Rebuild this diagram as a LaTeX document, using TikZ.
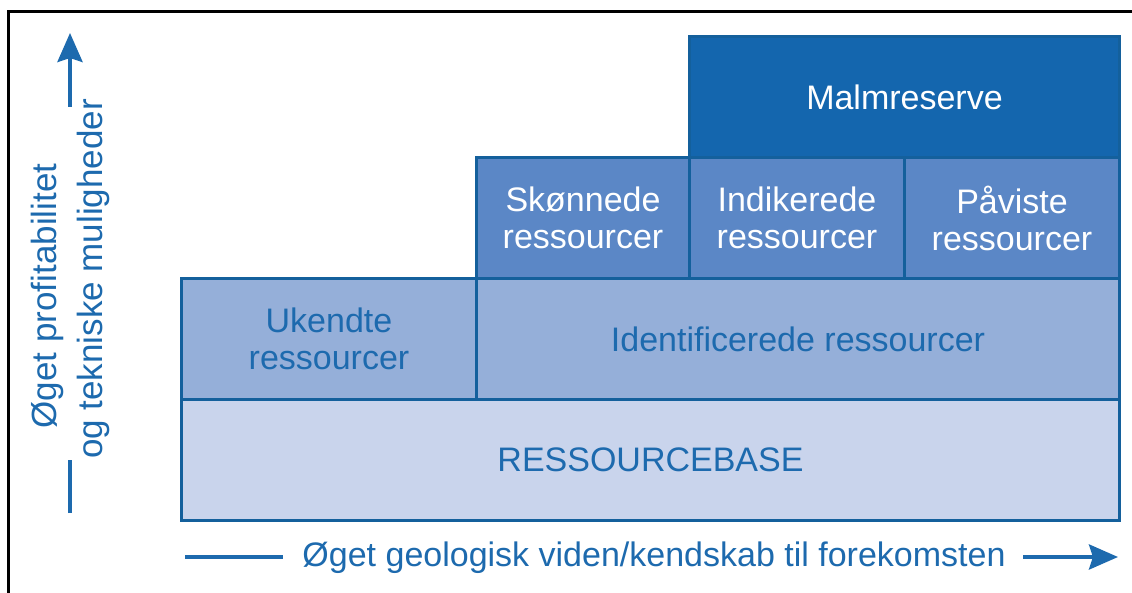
\documentclass[tikz,border=0pt]{standalone}
\usepackage{fontspec}
\setmainfont{Liberation Sans}
\usetikzlibrary{arrows.meta}
\definecolor{cdark}{HTML}{1466AE}
\definecolor{cmid}{HTML}{5B87C6}
\definecolor{clight}{HTML}{95AFD9}
\definecolor{cpale}{HTML}{C9D4EC}
\definecolor{cline}{HTML}{14609C}
\definecolor{ctext}{HTML}{1D6AAE}
\tikzset{
  box/.style={draw=cline, line width=3pt, anchor=north west, align=center, inner sep=0pt,
    font=\fontsize{34}{37}\selectfont},
  darkbox/.style={box, fill=cdark, text=white},
  midbox/.style={box, fill=cmid, text=white},
  lightbox/.style={box, fill=clight, text=ctext},
  palebox/.style={box, fill=cpale, text=ctext},
  axistext/.style={text=ctext, align=center, inner sep=0pt, font=\fontsize{34}{37}\selectfont},
  vaxistext/.style={axistext, rotate=90, font=\fontsize{35}{38}\selectfont},
  axisline/.style={draw=ctext, line width=4pt},
  axisarrow/.style={axisline, -{Stealth[length=29pt,width=25pt,inset=4pt]}}
}
\begin{document}
\begin{tikzpicture}[x=1pt,y=-1pt]
\useasboundingbox (0,0) rectangle (1132,593);
\fill[white] (0,0) rectangle (1132,593);
% frame (only left and top visible)
\draw[black, line width=3pt] (8,593) -- (8,12) -- (1132,12);
% boxes
\node[palebox, minimum width=938pt, minimum height=121pt] (base) at (180,398) {RESSOURCEBASE};
\node[lightbox, minimum width=295pt, minimum height=121pt] (ukendte) at (180,277) {Ukendte\\ressourcer};
\node[lightbox, minimum width=643pt, minimum height=121pt] (ident) at (475,277) {Identificerede ressourcer};
\node[midbox, minimum width=213pt, minimum height=121pt] (skon) at (475,156) {Skønnede\\ressourcer};
\node[midbox, minimum width=215pt, minimum height=121pt] (indik) at (688,156) {Indikerede\\ressourcer};
\node[midbox, minimum width=215pt, minimum height=121pt] (pav) at (903,156) {Påviste\\ressourcer};
\node[darkbox, minimum width=430pt, minimum height=121pt] (malm) at (688,35) {Malmreserve};
% horizontal axis
\node[axistext] (htext) at (654,558) {Øget geologisk viden/kendskab til forekomsten};
\coordinate (hl0) at (185,557);
\coordinate (hl1) at (283,557);
\coordinate (hr0) at (1023,557);
\coordinate (hr1) at (1118,557);
\draw[axisline] (hl0) -- (hl1);
\draw[axisarrow] (hr0) -- (hr1);
% vertical axis
\node[vaxistext] (vtext1) at (47,296) {Øget profitabilitet};
\node[vaxistext] (vtext2) at (93,279) {og tekniske muligheder};
\coordinate (vb0) at (70,513);
\coordinate (vb1) at (70,460);
\coordinate (vt0) at (70,107);
\coordinate (vt1) at (70,33);
\draw[axisline] (vb0) -- (vb1);
\draw[axisarrow] (vt0) -- (vt1);
\end{tikzpicture}
\end{document}
